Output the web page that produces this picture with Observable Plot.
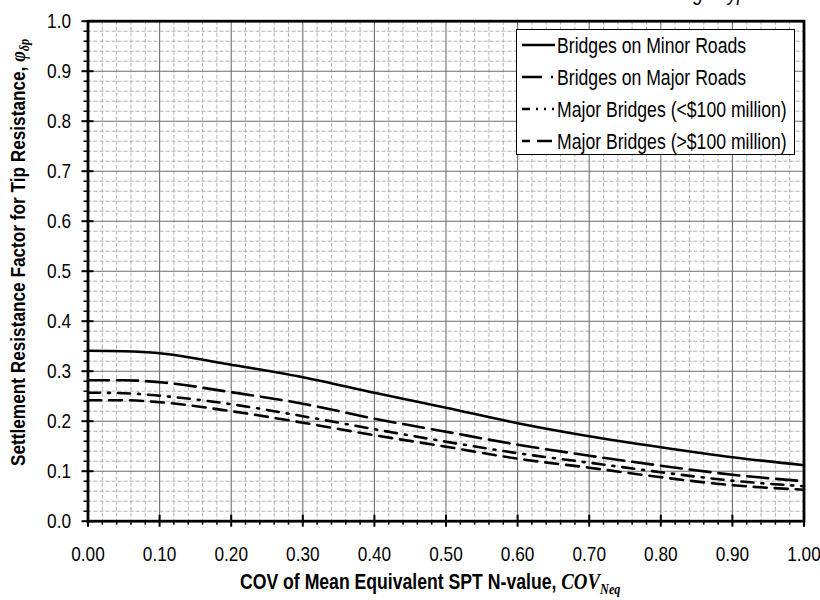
<!DOCTYPE html>
<html>
<head>
<meta charset="utf-8">
<script src="https://cdn.jsdelivr.net/npm/d3@7"></script>
<script src="https://cdn.jsdelivr.net/npm/@observablehq/plot@0.6"></script>
<style>
  html, body { margin: 0; padding: 0; background: #fff; }
  #chart { position: relative; width: 820px; height: 600px; overflow: hidden; }
</style>
</head>
<body>
<div id="chart"></div>
<script>
// ---- data ----
const covValues   = [0.00, 0.05, 0.10, 0.20, 0.30, 0.40, 0.50, 0.60, 0.70, 0.80, 0.90, 1.00];
const minorRoads  = [0.341, 0.340, 0.336, 0.313, 0.288, 0.257, 0.227, 0.196, 0.170, 0.148, 0.128, 0.112];
const majorRoads  = [0.282, 0.282, 0.278, 0.258, 0.235, 0.205, 0.179, 0.153, 0.131, 0.111, 0.093, 0.080];
const majorLt100  = [0.257, 0.256, 0.251, 0.234, 0.210, 0.184, 0.159, 0.136, 0.117, 0.098, 0.081, 0.070];
const majorGt100  = [0.242, 0.242, 0.238, 0.220, 0.197, 0.172, 0.149, 0.125, 0.107, 0.088, 0.072, 0.063];
const seriesNames = ["Bridges on Minor Roads", "Bridges on Major Roads", "Major Bridges (<$100 million)", "Major Bridges (>$100 million)"];
const seriesValues = [minorRoads, majorRoads, majorLt100, majorGt100];
const xTickLabels = [0, 0.1, 0.2, 0.3, 0.4, 0.5, 0.6, 0.7, 0.8, 0.9, 1.0];
const yTickLabels = [0, 0.1, 0.2, 0.3, 0.4, 0.5, 0.6, 0.7, 0.8, 0.9, 1.0];

// ---- styles ----
const curveDash  = ["none", "21,8", "12,8,2,8", "13,8"];
const legendDash = ["none", "20,9,2,20", "8,6,2,6,2,6,2,20", "8,7,15,20"];
const FONT = "'Liberation Sans', Arial, sans-serif";
const SERIF = "'Liberation Serif', 'Times New Roman', serif";
const SQ = 0.82; // horizontal condensing of the reference typeface

const rows = seriesNames.flatMap((name, i) => covValues.map((x, j) => ({x, y: seriesValues[i][j], series: name})));
const minorTicks = d3.range(0, 50.5, 1).map(d => d / 50).filter(d => Math.round(d * 50) % 5 !== 0);

const W = 820, H = 600;
const mL = 87.5, mR = 16.5, mT = 20.7, mB = 79.3;

const svg = Plot.plot({
  width: W, height: H,
  marginLeft: mL, marginRight: mR, marginTop: mT, marginBottom: mB,
  x: {domain: [0, 1]},
  y: {domain: [0, 1]},
  style: {fontFamily: FONT, fontSize: "21px", color: "#000", background: "#fff", overflow: "visible"},
  marks: [
    Plot.ruleX(minorTicks, {stroke: "#a8a8a8", strokeWidth: 0.9, strokeDasharray: "4,2"}),
    Plot.ruleY(minorTicks, {stroke: "#a8a8a8", strokeWidth: 0.9, strokeDasharray: "4,2"}),
    Plot.ruleX(xTickLabels, {stroke: "#6e6e6e", strokeWidth: 1.1}),
    Plot.ruleY(yTickLabels, {stroke: "#6e6e6e", strokeWidth: 1.1}),
    ...seriesNames.map((name, i) => Plot.line(rows.filter(r => r.series === name), {
      x: "x", y: "y", stroke: "#000", strokeWidth: 2.6,
      strokeDasharray: curveDash[i], curve: "monotone-x"
    })),
    Plot.axisX(xTickLabels, {tickFormat: d3.format(".2f"), tickSize: 6, tickPadding: 19, strokeWidth: 2, label: null, fill: "#000"}),
    Plot.axisX(xTickLabels, {tickFormat: () => "", tickSize: -6, strokeWidth: 2, label: null}),
    Plot.axisX(minorTicks, {tickFormat: () => "", tickSize: 4, strokeWidth: 1.5, label: null}),
    Plot.axisY(yTickLabels, {tickFormat: d3.format(".1f"), tickSize: 6, tickPadding: 11, strokeWidth: 2, label: null, fill: "#000"}),
    Plot.axisY(yTickLabels, {tickFormat: () => "", tickSize: -6, strokeWidth: 2, label: null}),
    Plot.axisY(minorTicks, {tickFormat: () => "", tickSize: 4, strokeWidth: 1.5, label: null}),
    Plot.frame({stroke: "#000", strokeWidth: 2.8})
  ]
});

const s = d3.select(svg);

// condense the tick labels horizontally
s.selectAll("g[aria-label$='tick label'] text").each(function() {
  const t = this.getAttribute("transform");
  if (t) this.setAttribute("transform", t + ` scale(${SQ},1)`);
  else {
    const x = +this.getAttribute("x") || 0, y = +this.getAttribute("y") || 0;
    this.removeAttribute("x"); this.removeAttribute("y");
    this.setAttribute("transform", `translate(${x},${y}) scale(${SQ},1)`);
  }
});

// cropped title at the very top
s.append("text")
  .attr("transform", `translate(757,0) scale(${SQ},1)`)
  .attr("text-anchor", "end")
  .attr("font-family", FONT).attr("font-size", 22).attr("font-style", "italic")
  .attr("fill", "#000")
  .text("Bridge Type");

// legend
const lg = s.append("g");
lg.append("rect").attr("x", 516.5).attr("y", 29.5).attr("width", 278).attr("height", 125)
  .attr("fill", "#fff").attr("stroke", "#000").attr("stroke-width", 1);
seriesNames.forEach((name, i) => {
  const cy = 45 + i * 32;
  lg.append("line").attr("x1", 522).attr("x2", 555).attr("y1", cy).attr("y2", cy)
    .attr("stroke", "#000").attr("stroke-width", 2.7)
    .attr("stroke-dasharray", legendDash[i]);
  lg.append("text").attr("transform", `translate(557,${cy}) scale(${SQ},1)`)
    .attr("dy", "0.36em").attr("text-anchor", "start")
    .attr("font-family", FONT).attr("font-size", 21.5).attr("fill", "#000")
    .text(name);
});

// x-axis title
const xt = s.append("text")
  .attr("transform", `translate(240,589) scale(${SQ},1)`)
  .attr("text-anchor", "start")
  .attr("font-family", FONT).attr("font-size", 21.5).attr("font-weight", "bold").attr("fill", "#000");
xt.append("tspan").text("COV of Mean Equivalent SPT N-value, ");
xt.append("tspan").attr("font-family", SERIF).attr("font-style", "italic").attr("font-size", 23).text("COV");
xt.append("tspan").attr("font-family", SERIF).attr("font-style", "italic").attr("font-size", 15).attr("dy", 5).text("Neq");

// y-axis title
const yt = s.append("text")
  .attr("transform", `translate(25,466) rotate(-90) scale(${SQ},1)`)
  .attr("text-anchor", "start")
  .attr("font-family", FONT).attr("font-size", 21).attr("font-weight", "bold").attr("fill", "#000");
yt.append("tspan").text("Settlement Resistance Factor for Tip Resistance, ");
yt.append("tspan").attr("font-family", SERIF).attr("font-style", "italic").attr("font-size", 22).text("φ");
yt.append("tspan").attr("font-family", SERIF).attr("font-style", "italic").attr("font-size", 15).attr("dy", 4).text("δp");

document.getElementById("chart").appendChild(svg);
</script>
</body>
</html>
